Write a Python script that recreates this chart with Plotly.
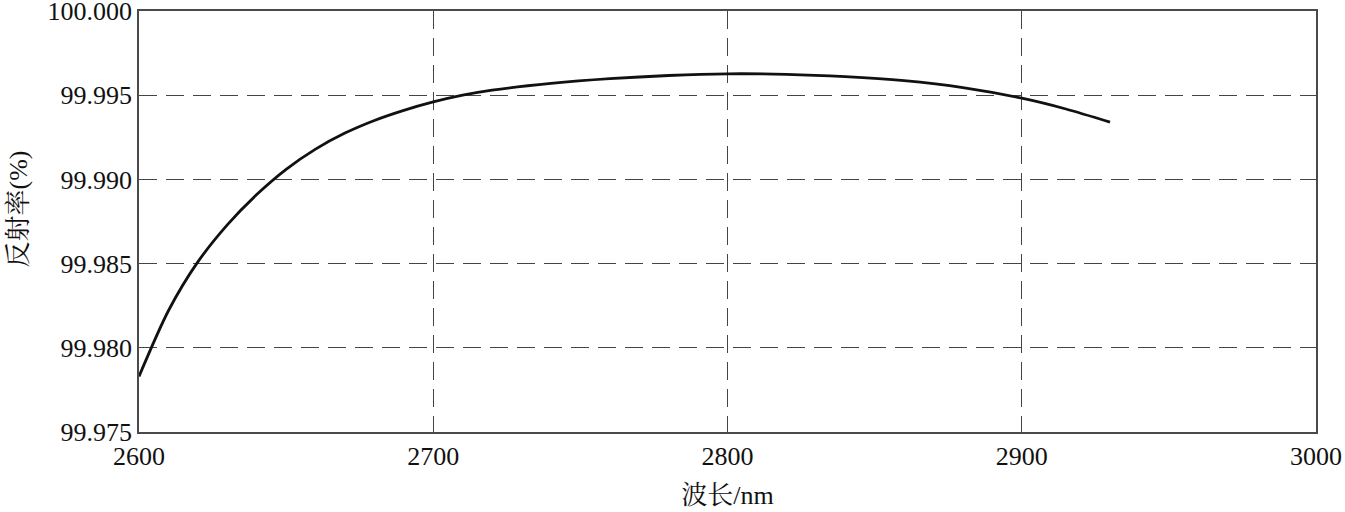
import plotly.graph_objects as go

# wavelength (nm) and reflectance (%)
wavelength = [2600, 2610, 2620, 2630, 2640, 2650, 2660, 2670, 2680, 2690, 2700,
              2710, 2720, 2740, 2760, 2780, 2800, 2820, 2840, 2860, 2880, 2900,
              2915, 2930]
reflectance = [99.9783, 99.9822, 99.9851, 99.9873, 99.9891, 99.9906, 99.9918,
               99.99275, 99.9935, 99.9941, 99.9946, 99.9950, 99.9953, 99.9957,
               99.99598, 99.99617, 99.99627, 99.99624, 99.99610, 99.99586,
               99.99545, 99.99482, 99.99418, 99.99340]

x_ticks = [2600, 2700, 2800, 2900, 3000]
y_ticks = [99.975, 99.980, 99.985, 99.990, 99.995, 100.000]

font_family = "'Liberation Serif', 'Times New Roman', 'Noto Serif CJK SC', 'Noto Sans CJK SC', serif"
text_font = dict(family=font_family, size=26, color="#111111")

fig = go.Figure(go.Scatter(
    x=wavelength, y=reflectance, mode="lines",
    line=dict(color="#111111", width=2.8, shape="spline", smoothing=0.8),
    showlegend=False,
))

axis_common = dict(
    showline=True, linecolor="#4a4a4a", linewidth=1.5, mirror=True,
    showgrid=True, gridcolor="#444444", gridwidth=1.2, griddash="18px,9px",
    zeroline=False, ticks="", ticklabeloverflow="allow",
    tickfont=text_font,
)

fig.update_xaxes(
    range=[2600, 3000], tickvals=x_ticks,
    title_text="波长/nm", title_standoff=16, title_font=text_font, **axis_common,
)
fig.update_yaxes(
    range=[99.975, 100.000], tickvals=y_ticks, tickformat=".3f", **axis_common,
)

# y title placed by hand, it sits further left than plotly's standoff allows
fig.add_annotation(
    text="反射率(%)", textangle=-90, font=text_font, showarrow=False,
    xref="paper", yref="paper", x=0, y=0.5, xanchor="center", yanchor="middle",
    xshift=-121, yshift=12,
)

fig.update_layout(
    width=1345, height=512,
    margin=dict(l=139, r=29, t=11, b=80, autoexpand=False),
    paper_bgcolor="white", plot_bgcolor="white",
    font=dict(family=font_family),
)

# drop the default page margin so the figure sits at the window's corner
fig.write_html("out.html", config={"displayModeBar": False},
               post_script="document.body.style.margin='0';")
